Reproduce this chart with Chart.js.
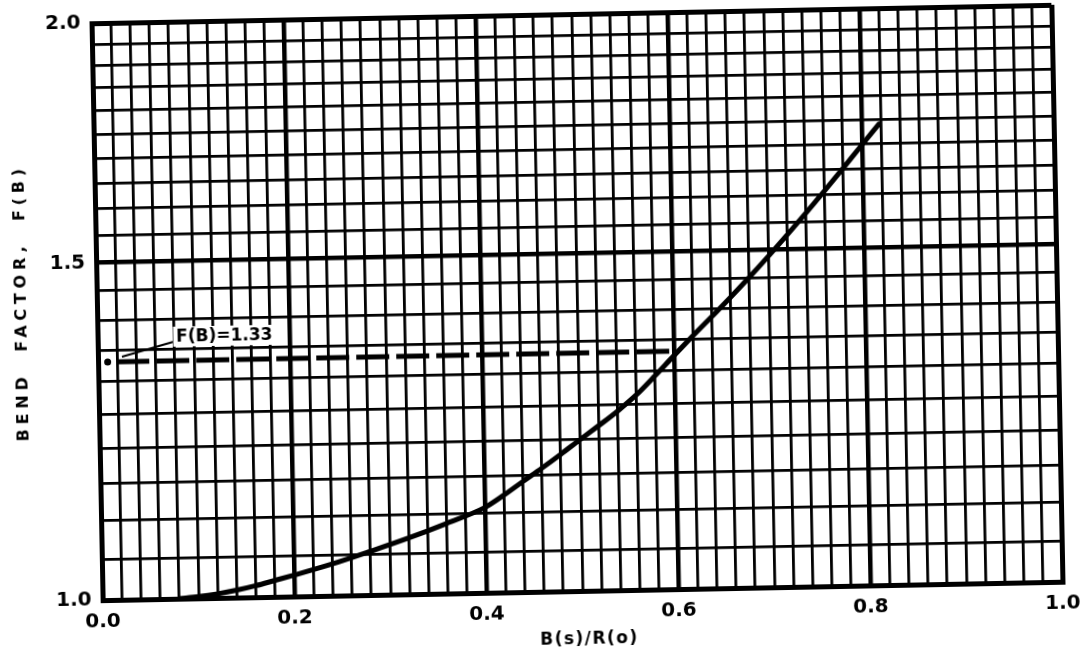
<!DOCTYPE html>
<html>
<head>
<meta charset="utf-8">
<script src="https://cdn.jsdelivr.net/npm/chart.js@4.4.1/dist/chart.umd.min.js"></script>
<style>
  html, body { margin: 0; padding: 0; background: #fff; overflow: hidden; }
  #sheet { width: 1084px; height: 657px; transform: rotate(-1.1deg); transform-origin: 577px 302px; }
  canvas { display: block; }
</style>
</head>
<body>
<div id="sheet"><canvas id="bend" width="1084" height="657"></canvas></div>
<script>
// Bend factor F(B) as a function of the ratio B(s)/R(o)
const ratio = [0.08, 0.10, 0.12, 0.14, 0.16, 0.18, 0.20, 0.24, 0.28, 0.32, 0.36, 0.40,
               0.42, 0.44, 0.46, 0.48, 0.50, 0.52, 0.54, 0.56, 0.58, 0.60, 0.62, 0.64,
               0.66, 0.68, 0.70, 0.72, 0.74, 0.76, 0.78, 0.80, 0.818];
const bendFactor = [1.000, 1.002, 1.005, 1.009, 1.014, 1.020, 1.026, 1.039, 1.054, 1.070, 1.088, 1.108,
                    1.124, 1.142, 1.160, 1.179, 1.199, 1.219, 1.240, 1.264, 1.293, 1.324, 1.355, 1.386,
                    1.418, 1.452, 1.488, 1.526, 1.566, 1.608, 1.652, 1.698, 1.740];

// Reading at F(B) = 1.33: dashed guide from the axis to the curve
const readRatio = [0.019, 0.60];
const readFactor = [1.331, 1.331];
const readDot = [0.010, 1.331];
const leaderRatio = [0.025, 0.080];
const leaderFactor = [1.339, 1.362];
const readLabel = 'F(B)=1.33';
const readLabelAt = [0.132, 1.370];

// Axis ticks and titles
const xTickLabels = ['0.0', '0.2', '0.4', '0.6', '0.8', '1.0'];
const yTickLabels = ['1.0', '1.5', '2.0'];
const xTitle = 'B(s)/R(o)';
const yTitle = 'BEND  FACTOR,  F(B)';

const INK = '#000';
const pts = (xs, ys) => xs.map((v, i) => ({ x: v, y: ys[i] }));

// fine graph-paper rulings: every 0.02 across, every 0.05 up the log axis
const xRulings = [];
for (let i = 0; i <= 50; i++) xRulings.push(+(i * 0.02).toFixed(2));
const yRulings = [];
for (let i = 0; i <= 20; i++) yRulings.push(+(1 + i * 0.05).toFixed(2));

const isMajorX = v => Math.abs(v * 5 - Math.round(v * 5)) < 1e-6;
const isMajorY = v => Math.abs(v * 2 - Math.round(v * 2)) < 1e-6;

const paper = {
  id: 'paper',
  beforeDraw(chart) {
    const c = chart.ctx;
    c.save();
    c.fillStyle = '#fff';
    c.fillRect(0, 0, chart.width, chart.height);
    c.restore();
  },
  afterDraw(chart) {
    const c = chart.ctx;
    const { x, y } = chart.scales;
    c.save();
    c.fillStyle = INK;
    c.textAlign = 'center';
    c.textBaseline = 'middle';

    // callout text on a cleared patch of the grid
    c.font = 'bold 17px "DejaVu Sans"';
    const lx = x.getPixelForValue(readLabelAt[0]);
    const ly = y.getPixelForValue(readLabelAt[1]);
    const w = c.measureText(readLabel).width;
    c.fillStyle = '#fff';
    c.fillRect(lx - w / 2 - 3, ly - 10, w + 6, 20);
    c.fillStyle = INK;
    c.fillText(readLabel, lx, ly + 1);

    // axis titles
    c.font = 'bold 17px "DejaVu Sans"';
    c.letterSpacing = '1.5px';
    c.fillText(xTitle, 583, 640);

    c.translate(22, 292);
    c.rotate(-Math.PI / 2);
    c.font = 'bold 16px "DejaVu Sans"';
    c.letterSpacing = '4.8px';
    c.fillText(yTitle, 0, 0);
    c.restore();
  }
};

new Chart(document.getElementById('bend'), {
  type: 'scatter',
  data: {
    datasets: [
      {
        data: pts(ratio, bendFactor),
        showLine: true,
        borderColor: INK,
        borderWidth: 5,
        borderCapStyle: 'round',
        cubicInterpolationMode: 'monotone',
        pointRadius: 0
      },
      {
        data: pts(readRatio, readFactor),
        showLine: true,
        borderColor: INK,
        borderWidth: 5,
        borderDash: [33, 7],
        pointRadius: 0
      },
      {
        data: pts(leaderRatio, leaderFactor),
        showLine: true,
        borderColor: INK,
        borderWidth: 2,
        pointRadius: 0
      },
      {
        data: [{ x: readDot[0], y: readDot[1] }],
        showLine: false,
        pointRadius: 3.5,
        pointBackgroundColor: INK,
        pointBorderWidth: 0
      }
    ]
  },
  options: {
    responsive: false,
    animation: false,
    devicePixelRatio: 1,
    layout: { padding: { left: 0, top: 14, right: 27, bottom: 0 } },
    plugins: { legend: { display: false }, tooltip: { enabled: false } },
    scales: {
      x: {
        type: 'linear',
        min: 0,
        max: 1,
        afterBuildTicks: s => { s.ticks = xRulings.map(v => ({ value: v })); },
        afterFit: s => { s.height = 66; s.paddingLeft = 0; s.paddingRight = 0; },
        grid: {
          color: INK,
          drawTicks: false,
          lineWidth: ctx => {
            const v = ctx.tick ? ctx.tick.value : 0;
            if (v <= 0 || v >= 1) return 5;
            return isMajorX(v) ? 4.5 : 2.8;
          }
        },
        border: { display: true, color: INK, width: 5 },
        ticks: {
          autoSkip: false,
          maxRotation: 0,
          minRotation: 0,
          padding: 10,
          color: INK,
          font: { family: 'DejaVu Sans', size: 20, weight: 'bold' },
          callback: v => {
            const s = v.toFixed(1);
            return isMajorX(v) && xTickLabels.includes(s) ? s : '';
          }
        },
        title: { display: false }
      },
      y: {
        type: 'logarithmic',
        min: 1,
        max: 2,
        afterBuildTicks: s => { s.ticks = yRulings.map(v => ({ value: v })); },
        afterFit: s => { s.width = 97; s.paddingTop = 0; s.paddingBottom = 0; },
        grid: {
          color: INK,
          drawTicks: false,
          lineWidth: ctx => {
            const v = ctx.tick ? ctx.tick.value : 1;
            if (v <= 1 || v >= 2) return 5;
            return isMajorY(v) ? 4.5 : 2.8;
          }
        },
        border: { display: true, color: INK, width: 5 },
        ticks: {
          autoSkip: false,
          padding: 11,
          color: INK,
          font: { family: 'DejaVu Sans', size: 20, weight: 'bold' },
          callback: v => {
            const s = Number(v).toFixed(1);
            return isMajorY(v) && yTickLabels.includes(s) ? s : '';
          }
        },
        title: { display: false }
      }
    }
  },
  plugins: [paper]
});
</script>
</body>
</html>
